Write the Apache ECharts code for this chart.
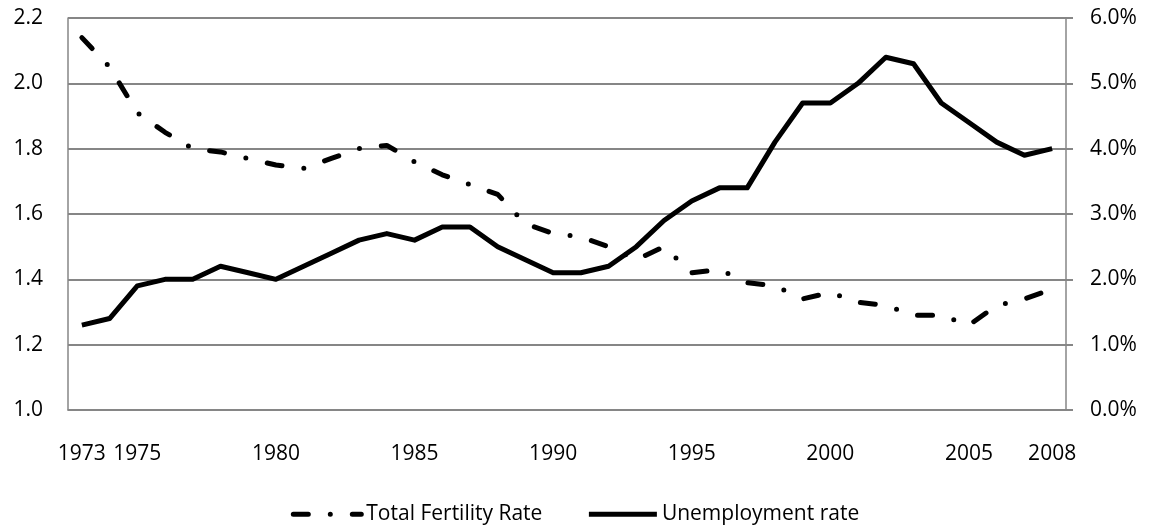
<!DOCTYPE html>
<html>
<head>
<meta charset="utf-8">
<title>Fertility and unemployment</title>
<script src="https://cdn.jsdelivr.net/npm/echarts@6/dist/echarts.min.js"></script>
<style>
  html, body { margin: 0; padding: 0; background: #fff; }
  #chart { width: 1150px; height: 531px; }
</style>
</head>
<body>
<div id="chart"></div>
<script>
// years on the x axis
const years = [];
for (let y = 1973; y <= 2008; y++) years.push(String(y));
const labelYears = ['1973', '1975', '1980', '1985', '1990', '1995', '2000', '2005', '2008'];

// total fertility rate (left axis)
const fertility = [
  2.14, 2.05, 1.91, 1.85, 1.80, 1.79, 1.77, 1.75, 1.74, 1.77,
  1.80, 1.81, 1.76, 1.72, 1.69, 1.66, 1.57, 1.54, 1.53, 1.50,
  1.46, 1.50, 1.42, 1.43, 1.39, 1.38, 1.34, 1.36, 1.33, 1.32,
  1.29, 1.29, 1.26, 1.32, 1.34, 1.37
];

// unemployment rate in % (right axis)
const unemployment = [
  1.3, 1.4, 1.9, 2.0, 2.0, 2.2, 2.1, 2.0, 2.2, 2.4,
  2.6, 2.7, 2.6, 2.8, 2.8, 2.5, 2.3, 2.1, 2.1, 2.2,
  2.5, 2.9, 3.2, 3.4, 3.4, 4.1, 4.7, 4.7, 5.0, 5.4,
  5.3, 4.7, 4.4, 4.1, 3.9, 4.0
];

const FONT = "'Open Sans', sans-serif";
const FS = 21;
const GREY = '#868686';

const chart = echarts.init(document.getElementById('chart'));
chart.setOption({
  animation: false,
  textStyle: { fontFamily: FONT },
  grid: { left: 68, right: 84, top: 18, bottom: 121 },
  legend: {
    left: 'center',
    top: 498,
    itemWidth: 68,
    itemHeight: 28,
    itemGap: 44,
    itemStyle: { color: 'transparent', borderWidth: 0 },
    lineStyle: { width: 5 },
    textStyle: { fontSize: FS, color: '#000', fontFamily: FONT },
    data: ['Total Fertility Rate', 'Unemployment rate']
  },
  xAxis: {
    type: 'category',
    data: years,
    boundaryGap: true,
    axisLine: { lineStyle: { color: GREY, width: 1.5 } },
    axisTick: { interval: 0, inside: true, length: 8, lineStyle: { color: GREY, width: 1.5 } },
    axisLabel: {
      interval: (i, v) => labelYears.includes(v),
      hideOverlap: false,
      margin: 34,
      fontSize: FS,
      color: '#000',
      fontFamily: FONT
    }
  },
  yAxis: [
    {
      type: 'value',
      min: 1.0,
      max: 2.2,
      interval: 0.2,
      axisLine: { show: true, lineStyle: { color: GREY, width: 1.5 } },
      axisTick: { show: false },
      splitLine: { lineStyle: { color: GREY, width: 2 } },
      axisLabel: {
        margin: 25,
        fontSize: FS,
        color: '#000',
        fontFamily: FONT,
        formatter: v => v.toFixed(1)
      }
    },
    {
      type: 'value',
      min: 0,
      max: 6,
      interval: 1,
      position: 'right',
      axisLine: { show: true, lineStyle: { color: GREY, width: 1.5 } },
      axisTick: { show: true, length: 7, lineStyle: { color: GREY, width: 2 } },
      splitLine: { show: false },
      axisLabel: {
        margin: 24,
        fontSize: FS,
        color: '#000',
        fontFamily: FONT,
        formatter: v => v.toFixed(1) + '%'
      }
    }
  ],
  series: [
    {
      name: 'Total Fertility Rate',
      type: 'line',
      yAxisIndex: 0,
      data: fertility,
      symbol: 'none',
      lineStyle: { color: '#000', width: 5, type: [15, 22, 0, 22], cap: 'round' },
      itemStyle: { color: '#000' }
    },
    {
      name: 'Unemployment rate',
      type: 'line',
      yAxisIndex: 1,
      data: unemployment,
      symbol: 'none',
      lineStyle: { color: '#000', width: 5, join: 'round' },
      itemStyle: { color: '#000' }
    }
  ]
});
</script>
</body>
</html>
